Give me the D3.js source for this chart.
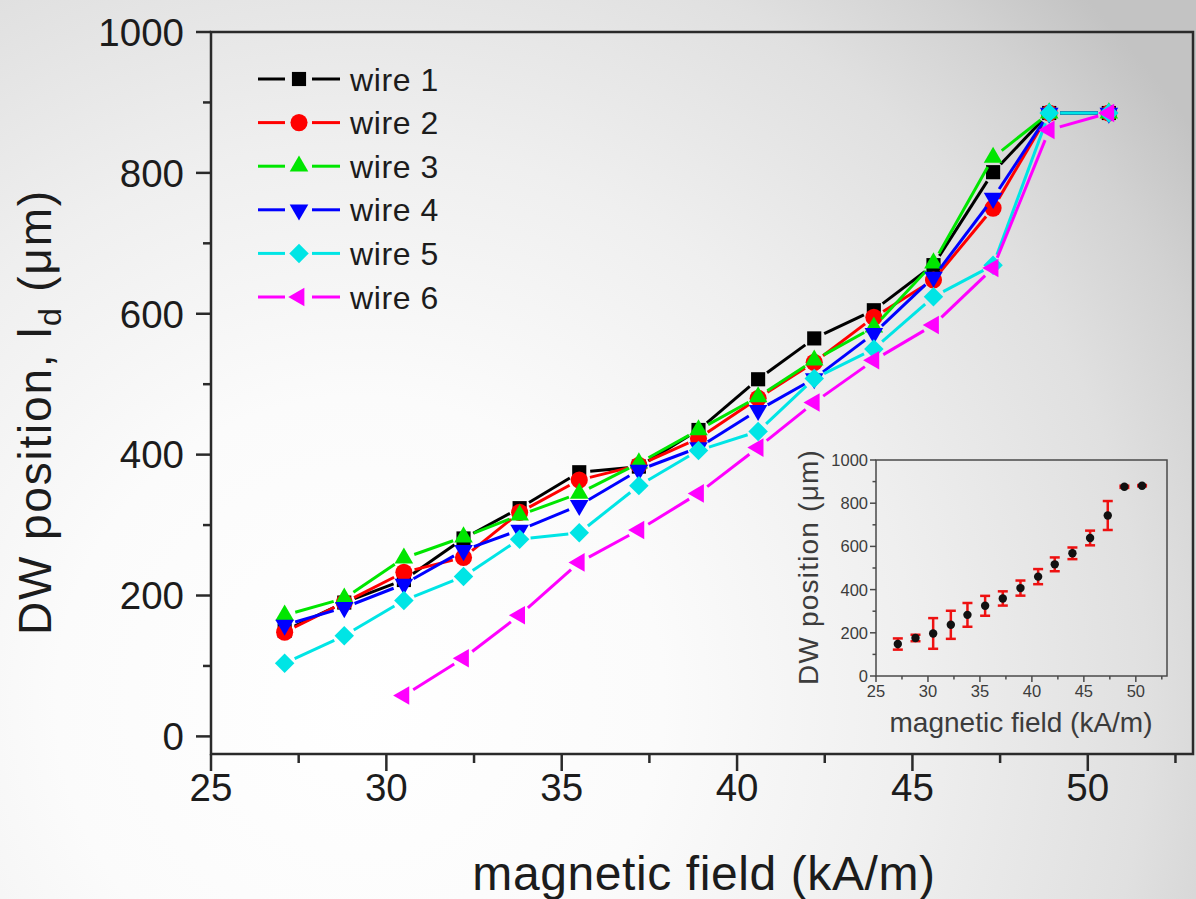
<!DOCTYPE html>
<html>
<head>
<meta charset="utf-8">
<script src="https://cdn.jsdelivr.net/npm/d3@7"></script>
<style>
  html, body { margin: 0; padding: 0; background: #fff; }
  svg { display: block; font-family: "Liberation Sans", Arial, Helvetica, sans-serif; }
</style>
</head>
<body>
<svg id="chart" width="1196" height="899"></svg>
<script>
// Applied magnetic field for each measurement (kA/m)
const fields = [27.1, 28.8, 30.5, 32.2, 33.8, 35.5, 37.2, 38.9, 40.6, 42.2, 43.9, 45.6, 47.3, 48.9, 50.6];

// Domain-wall position l_d (µm) per wire
const wire1 = [150, 190, 222, 281, 324, 375, 383, 435, 507, 565, 605, 669, 801, 885, 885];
const wire2 = [148, 190, 233, 254, 318, 364, 385, 423, 480, 531, 595, 648, 750, 885, 885];
const wire3 = [172, 196, 253, 283, 314, 345, 388, 435, 482, 534, 581, 672, 822, 885, 885];
const wire4 = [158, 183, 216, 264, 293, 328, 378, 410, 463, 508, 572, 652, 764, 885, 885];
const wire5 = [104, 143, 193, 227, 280, 289, 356, 406, 433, 508, 550, 624, 669, 885, 885];
const wire6 = [null, null, 58, 111, 172, 247, 293, 345, 410, 474, 534, 584, 665, 861, 885];

const seriesNames = ["wire 1", "wire 2", "wire 3", "wire 4", "wire 5", "wire 6"];
const seriesValues = [wire1, wire2, wire3, wire4, wire5, wire6];
const seriesColors = ["#000000", "#ff0000", "#00e600", "#0000ff", "#00e5e5", "#ff00ff"];
const seriesShapes = ["square", "circle", "up", "down", "diamond", "left"];

// Averaged position with its spread (inset)
const meanPosition = [148, 176, 197, 237, 283, 325, 359, 407, 460, 517, 568, 639, 743, 876, 881];
const spread = [26, 15, 71, 65, 55, 46, 33, 35, 35, 32, 27, 34, 67, 5, 3];

// Axis ticks
const xMajorTicks = [25, 30, 35, 40, 45, 50];
const xMinorTicks = [27.5, 32.5, 37.5, 42.5, 47.5, 52.5];
const yMajorTicks = [0, 200, 400, 600, 800, 1000];
const yMinorTicks = [100, 300, 500, 700, 900];

const svg = d3.select("#chart");
const W = 1196, H = 899;

// Soft lit background
const defs = svg.append("defs");
const bg = defs.append("radialGradient")
  .attr("id", "bgGrad")
  .attr("gradientUnits", "userSpaceOnUse")
  .attr("cx", 360).attr("cy", 700).attr("r", 1010);
[[0, "#ffffff"], [0.3, "#fbfbfb"], [0.55, "#efefef"], [0.78, "#e0e0e0"], [0.9, "#d2d2d2"], [1, "#c3c3c3"]]
  .forEach(([o, c]) => bg.append("stop").attr("offset", o).attr("stop-color", c));
svg.append("rect").attr("width", W).attr("height", H).attr("fill", "url(#bgGrad)");

// ---------- main plot ----------
const x = d3.scaleLinear().domain([25, 53]).range([211, 1193]);
const y = d3.scaleLinear().domain([-25, 1000]).range([754, 32]);
const axisColor = "#2a2a2a";
const textColor = "#1c1c1c";

const gAxes = svg.append("g");
// ticks (outward)
gAxes.selectAll(".yMaj").data(yMajorTicks).join("line")
  .attr("x1", x(25) - 15).attr("x2", x(25)).attr("y1", d => y(d)).attr("y2", d => y(d))
  .attr("stroke", axisColor).attr("stroke-width", 2.5);
gAxes.selectAll(".yMin").data(yMinorTicks).join("line")
  .attr("x1", x(25) - 8).attr("x2", x(25)).attr("y1", d => y(d)).attr("y2", d => y(d))
  .attr("stroke", axisColor).attr("stroke-width", 2.5);
gAxes.selectAll(".xMaj").data(xMajorTicks).join("line")
  .attr("x1", d => x(d)).attr("x2", d => x(d)).attr("y1", y(-25)).attr("y2", y(-25) + 17)
  .attr("stroke", axisColor).attr("stroke-width", 2.5);
gAxes.selectAll(".xMin").data(xMinorTicks).join("line")
  .attr("x1", d => x(d)).attr("x2", d => x(d)).attr("y1", y(-25)).attr("y2", y(-25) + 9)
  .attr("stroke", axisColor).attr("stroke-width", 2.5);
// frame
gAxes.append("rect")
  .attr("x", x(25)).attr("y", y(1000))
  .attr("width", x(53) - x(25)).attr("height", y(-25) - y(1000))
  .attr("fill", "none").attr("stroke", axisColor).attr("stroke-width", 2.5);

// tick labels
gAxes.selectAll(".yLab").data(yMajorTicks).join("text")
  .attr("x", 184).attr("y", d => y(d)).attr("dy", "0.36em")
  .attr("text-anchor", "end").attr("font-size", 38.5).attr("fill", textColor)
  .text(d => d);
gAxes.selectAll(".xLab").data(xMajorTicks).join("text")
  .attr("x", d => x(d)).attr("y", 801)
  .attr("text-anchor", "middle").attr("font-size", 38.5).attr("fill", textColor)
  .text(d => d);

// axis titles
svg.append("text")
  .attr("x", 704).attr("y", 890)
  .attr("text-anchor", "middle").attr("font-size", 48).attr("letter-spacing", 0.6)
  .attr("fill", textColor)
  .text("magnetic field (kA/m)");
const yTitle = svg.append("text")
  .attr("transform", "translate(51,412) rotate(-90)")
  .attr("text-anchor", "middle").attr("font-size", 46).attr("letter-spacing", 1.8)
  .attr("fill", textColor);
yTitle.append("tspan").text("DW position, l");
yTitle.append("tspan").attr("font-size", 32).attr("dy", 10).text("d");
yTitle.append("tspan").attr("dy", -10).text(" (\u03bcm)");

// marker shapes
function markerPath(shape) {
  switch (shape) {
    case "square": return d3.symbol(d3.symbolSquare, 200)();
    case "circle": return d3.symbol(d3.symbolCircle, 230)();
    case "up": return d3.symbol(d3.symbolTriangle, 150)();
    case "down": return d3.symbol(d3.symbolTriangle, 150)();
    case "diamond": return d3.symbol(d3.symbolSquare, 190)();
    case "left": return d3.symbol(d3.symbolTriangle, 150)();
  }
}
function markerRotation(shape) {
  return { down: 180, diamond: 45, left: -90 }[shape] || 0;
}

// line broken around each symbol
const gap = 11;
const segLine = d3.line();
function drawSeries(g, pts, color, shape) {
  for (let i = 0; i < pts.length - 1; i++) {
    const [x0, y0] = pts[i], [x1, y1] = pts[i + 1];
    const dx = x1 - x0, dy = y1 - y0, len = Math.hypot(dx, dy);
    if (len <= 2 * gap) continue;
    const ux = dx / len, uy = dy / len;
    g.append("path")
      .attr("d", segLine([[x0 + ux * gap, y0 + uy * gap], [x1 - ux * gap, y1 - uy * gap]]))
      .attr("stroke", color).attr("stroke-width", 3).attr("fill", "none");
  }
  g.selectAll(null).data(pts).join("path")
    .attr("d", markerPath(shape))
    .attr("transform", d => `translate(${d[0]},${d[1]}) rotate(${markerRotation(shape)})`)
    .attr("fill", color);
}

const gData = svg.append("g");
seriesValues.forEach((vals, si) => {
  const pts = fields.map((f, i) => vals[i] == null ? null : [x(f), y(vals[i])]).filter(p => p);
  drawSeries(gData.append("g"), pts, seriesColors[si], seriesShapes[si]);
});

// legend
const gLeg = svg.append("g");
const legRowY = d => 79 + d * 43.6;
seriesNames.forEach((name, i) => {
  const cy = legRowY(i);
  const row = gLeg.append("g");
  row.append("line").attr("x1", 258).attr("x2", 285).attr("y1", cy).attr("y2", cy)
    .attr("stroke", seriesColors[i]).attr("stroke-width", 3);
  row.append("line").attr("x1", 312).attr("x2", 340).attr("y1", cy).attr("y2", cy)
    .attr("stroke", seriesColors[i]).attr("stroke-width", 3);
  row.append("path").attr("d", markerPath(seriesShapes[i]))
    .attr("transform", `translate(299,${cy}) rotate(${markerRotation(seriesShapes[i])})`)
    .attr("fill", seriesColors[i]);
  row.append("text").attr("x", 350).attr("y", cy).attr("dy", "0.36em")
    .attr("font-size", 32).attr("letter-spacing", 0.6).attr("fill", textColor).text(name);
});

// ---------- inset: averaged position ----------
const xi = d3.scaleLinear().domain([25, 53]).range([876, 1167]);
const yi = d3.scaleLinear().domain([0, 1000]).range([676, 460]);
const insetAxis = "#4a4a4a";
const insetText = "#3c3c3c";
const gIn = svg.append("g");

gIn.selectAll(".iyMaj").data(yMajorTicks).join("line")
  .attr("x1", xi(25) - 6).attr("x2", xi(25)).attr("y1", d => yi(d)).attr("y2", d => yi(d))
  .attr("stroke", insetAxis).attr("stroke-width", 1.5);
gIn.selectAll(".iyMin").data(yMinorTicks).join("line")
  .attr("x1", xi(25) - 3.5).attr("x2", xi(25)).attr("y1", d => yi(d)).attr("y2", d => yi(d))
  .attr("stroke", insetAxis).attr("stroke-width", 1.5);
gIn.selectAll(".ixMaj").data(xMajorTicks).join("line")
  .attr("x1", d => xi(d)).attr("x2", d => xi(d)).attr("y1", yi(0)).attr("y2", yi(0) + 6)
  .attr("stroke", insetAxis).attr("stroke-width", 1.5);
gIn.selectAll(".ixMin").data(xMinorTicks).join("line")
  .attr("x1", d => xi(d)).attr("x2", d => xi(d)).attr("y1", yi(0)).attr("y2", yi(0) + 3.5)
  .attr("stroke", insetAxis).attr("stroke-width", 1.5);
gIn.append("rect")
  .attr("x", xi(25)).attr("y", yi(1000))
  .attr("width", xi(53) - xi(25)).attr("height", yi(0) - yi(1000))
  .attr("fill", "none").attr("stroke", insetAxis).attr("stroke-width", 1.5);

gIn.selectAll(".iyLab").data(yMajorTicks).join("text")
  .attr("x", xi(25) - 8).attr("y", d => yi(d)).attr("dy", "0.36em")
  .attr("text-anchor", "end").attr("font-size", 16.5).attr("fill", insetText)
  .text(d => d);
gIn.selectAll(".ixLab").data(xMajorTicks).join("text")
  .attr("x", d => xi(d)).attr("y", 697)
  .attr("text-anchor", "middle").attr("font-size", 16.5).attr("fill", insetText)
  .text(d => d);
gIn.append("text")
  .attr("x", 1021).attr("y", 732)
  .attr("text-anchor", "middle").attr("font-size", 28).attr("fill", insetText)
  .text("magnetic field (kA/m)");
gIn.append("text")
  .attr("transform", "translate(818,567) rotate(-90)")
  .attr("text-anchor", "middle").attr("font-size", 28).attr("letter-spacing", 1.2)
  .attr("fill", insetText)
  .text("DW position (\u03bcm)");

// error bars and means
const errData = fields.map((f, i) => ({ f, m: meanPosition[i], e: spread[i] }));
const errColor = "#ee1111";
const gErr = gIn.append("g");
gErr.selectAll(".stem").data(errData).join("line")
  .attr("x1", d => xi(d.f)).attr("x2", d => xi(d.f))
  .attr("y1", d => yi(d.m - d.e)).attr("y2", d => yi(d.m + d.e))
  .attr("stroke", errColor).attr("stroke-width", 2.5);
gErr.selectAll(".capTop").data(errData).join("line")
  .attr("x1", d => xi(d.f) - 5).attr("x2", d => xi(d.f) + 5)
  .attr("y1", d => yi(d.m + d.e)).attr("y2", d => yi(d.m + d.e))
  .attr("stroke", errColor).attr("stroke-width", 2.5);
gErr.selectAll(".capBot").data(errData).join("line")
  .attr("x1", d => xi(d.f) - 5).attr("x2", d => xi(d.f) + 5)
  .attr("y1", d => yi(d.m - d.e)).attr("y2", d => yi(d.m - d.e))
  .attr("stroke", errColor).attr("stroke-width", 2.5);
gIn.selectAll(".mean").data(errData).join("circle")
  .attr("cx", d => xi(d.f)).attr("cy", d => yi(d.m)).attr("r", 4.2)
  .attr("fill", "#111");
</script>
</body>
</html>
